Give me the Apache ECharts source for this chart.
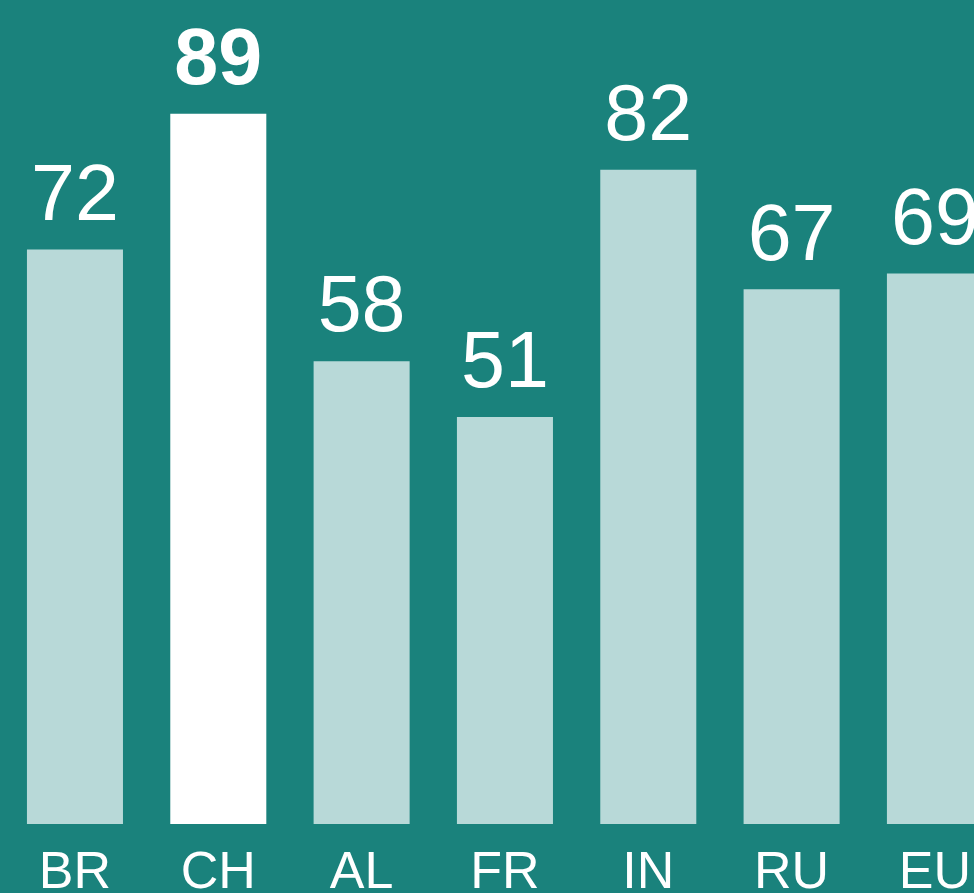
<!DOCTYPE html>
<html>
<head>
<meta charset="utf-8">
<script src="https://cdn.jsdelivr.net/npm/echarts@6/dist/echarts.min.js"></script>
<style>
  html, body { margin: 0; padding: 0; background: #1a827c; }
  #chart { width: 974px; height: 893px; }
</style>
</head>
<body>
<div id="chart"></div>
<script>
const categories = ["BR", "CH", "AL", "FR", "IN", "RU", "EU"]
const values = [72, 89, 58, 51, 82, 67, 69]
const highlight = "CH"

const chart = echarts.init(document.getElementById("chart"))

const barData = values.map(function (v, i) {
    const hot = categories[i] === highlight
    return {
        value: v,
        itemStyle: { color: hot ? "#ffffff" : "#b8d9d8" },
        label: { fontWeight: hot ? "bold" : "normal" }
    }
})

chart.setOption({
    backgroundColor: "#1a827c",
    animation: false,
    grid: {
        left: 3.3,
        top: 26,
        bottom: 69,
        right: -32.6,
        outerBoundsMode: "none",
        containLabel: false
    },
    xAxis: {
        type: "category",
        data: categories,
        axisLine: { show: false },
        axisTick: { show: false },
        axisLabel: {
            color: "#ffffff",
            fontFamily: "Liberation Sans",
            fontSize: 52,
            margin: 24
        }
    },
    yAxis: {
        type: "value",
        min: 0,
        max: 100,
        show: false,
        splitLine: { show: false }
    },
    series: [{
        type: "bar",
        data: barData,
        barCategoryGap: "33%",
        label: {
            show: true,
            position: "top",
            distance: 12,
            color: "#ffffff",
            fontFamily: "Liberation Sans",
            fontSize: 79
        }
    }]
})
</script>
</body>
</html>
